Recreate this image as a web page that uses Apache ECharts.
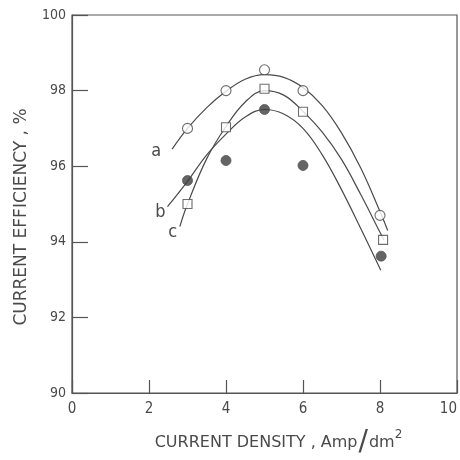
<!DOCTYPE html>
<html>
<head>
<meta charset="utf-8">
<script src="https://cdn.jsdelivr.net/npm/echarts@6/dist/echarts.min.js"></script>
<style>
html,body{margin:0;padding:0;background:#fff;}
#chart{width:460px;height:460px;}
</style>
</head>
<body>
<div id="chart"></div>
<script>
// Measured points
const xA = [3, 4, 5, 6, 8];
const effA = [97.0, 98.0, 98.55, 98.0, 94.7];      // open circles
const xB = [3, 4, 5, 6, 8.08];
const effB = [95.0, 97.03, 98.05, 97.44, 94.05];   // open squares
const xC = [3, 4, 5, 6, 8.03];
const effC = [95.62, 96.15, 97.5, 96.02, 93.62];   // filled circles

// Fitted curves
const curveAx = [2.6, 3.0, 3.5, 4.0, 4.5, 5.0, 5.5, 6.0, 6.5, 7.0, 7.5, 8.0, 8.2];
const curveAy = [96.45, 97.0, 97.55, 97.98, 98.3, 98.42, 98.35, 98.08, 97.6, 96.88, 95.95, 94.8, 94.3];
const curveMx = [2.8, 3.0, 3.5, 4.0, 4.5, 5.0, 5.5, 6.0, 6.5, 7.0, 7.5, 8.0, 8.1];
const curveMy = [94.4, 95.0, 96.2, 97.05, 97.7, 98.0, 97.88, 97.45, 96.9, 96.18, 95.25, 94.25, 94.05];
const curveLx = [2.48, 3.0, 3.5, 4.0, 4.5, 5.0, 5.5, 6.0, 6.5, 7.0, 7.5, 8.02];
const curveLy = [94.93, 95.6, 96.3, 96.85, 97.3, 97.5, 97.38, 97.0, 96.3, 95.38, 94.35, 93.25];

const curveLabels = ['a', 'c', 'b'];

const xTicks = [0, 2, 4, 6, 8, 10];
const yTicks = [90, 92, 94, 96, 98, 100];

const ink = '#4a4a4a';
const FONT = '"DejaVu Sans Condensed", "Liberation Sans Narrow", "DejaVu Sans", sans-serif';
const FONT2 = '"DejaVu Sans", sans-serif';

function pairs(xs, ys) { return xs.map((x, i) => [x, ys[i]]); }

function curve(xs, ys, label, offset) {
  return {
    type: 'line',
    smooth: 0.4,
    symbol: 'circle',
    symbolSize: 0.01,
    showSymbol: true,
    silent: true,
    lineStyle: { color: ink, width: 1.2 },
    itemStyle: { color: ink },
    data: pairs(xs, ys).map((p, i) => i === 0 ? {
      value: p,
      label: {
        show: true, formatter: label, position: 'inside', offset: offset,
        fontSize: 18, color: ink, fontFamily: FONT
      }
    } : { value: p }),
    z: 2
  };
}

const chart = echarts.init(document.getElementById('chart'), null, { renderer: 'canvas' });
chart.setOption({
  animation: false,
  backgroundColor: '#ffffff',
  grid: {
    left: 72, right: 3, top: 15, bottom: 67,
    outerBoundsMode: 'none',
    containLabel: false,
    show: true, borderColor: '#555', borderWidth: 1.2, backgroundColor: 'transparent'
  },
  xAxis: {
    type: 'value', min: xTicks[0], max: xTicks[xTicks.length - 1], interval: 2,
    axisLine: { show: true, lineStyle: { color: '#555', width: 1.2 } },
    axisTick: { show: true, inside: true, length: 13, lineStyle: { color: '#555', width: 1.2 } },
    splitLine: { show: false },
    axisLabel: { fontSize: 15, color: ink, margin: 9, fontFamily: FONT, alignMaxLabel: 'right' },
    name: 'CURRENT DENSITY , Amp{s|/}dm{sup|2}',
    nameLocation: 'middle',
    nameGap: 36,
    nameTextStyle: {
      fontSize: 16, color: ink, fontFamily: FONT2, padding: [0, 0, 0, 28],
      rich: {
        s: { fontSize: 28, color: ink, fontFamily: FONT2, padding: [0, 1, 0, 1] },
        sup: { fontSize: 12, color: ink, fontFamily: FONT2, verticalAlign: 'top', padding: [0, 0, 10, 0] }
      }
    }
  },
  yAxis: {
    type: 'value', min: yTicks[0], max: yTicks[yTicks.length - 1], interval: 2,
    axisLine: { show: true, lineStyle: { color: '#555', width: 1.2 } },
    axisTick: { show: true, inside: true, length: 16, lineStyle: { color: '#555', width: 1.2 } },
    splitLine: { show: false },
    axisLabel: { fontSize: 14, color: ink, margin: 6, fontFamily: FONT },
    name: 'CURRENT EFFICIENCY , %',
    nameLocation: 'middle',
    nameGap: 42,
    nameTextStyle: { fontSize: 17, color: ink, fontFamily: FONT2, padding: [0, 26, 0, 0] }
  },
  series: [
    curve(curveAx, curveAy, curveLabels[0], [-16, 2]),
    curve(curveMx, curveMy, curveLabels[1], [-7, 6]),
    curve(curveLx, curveLy, curveLabels[2], [-7, 6]),
    {
      type: 'scatter', symbol: 'circle', symbolSize: 10,
      itemStyle: { color: '#ffffff', borderColor: ink, borderWidth: 1.1 },
      data: pairs(xA, effA), z: 5
    },
    {
      type: 'scatter', symbol: 'rect', symbolSize: 9,
      itemStyle: { color: '#ffffff', borderColor: ink, borderWidth: 1.1 },
      data: pairs(xB, effB), z: 5
    },
    {
      type: 'scatter', symbol: 'circle', symbolSize: 10,
      itemStyle: { color: '#3d3d3d', borderColor: '#555', borderWidth: 1 },
      data: pairs(xC, effC), z: 5
    }
  ]
});
</script>
</body>
</html>
